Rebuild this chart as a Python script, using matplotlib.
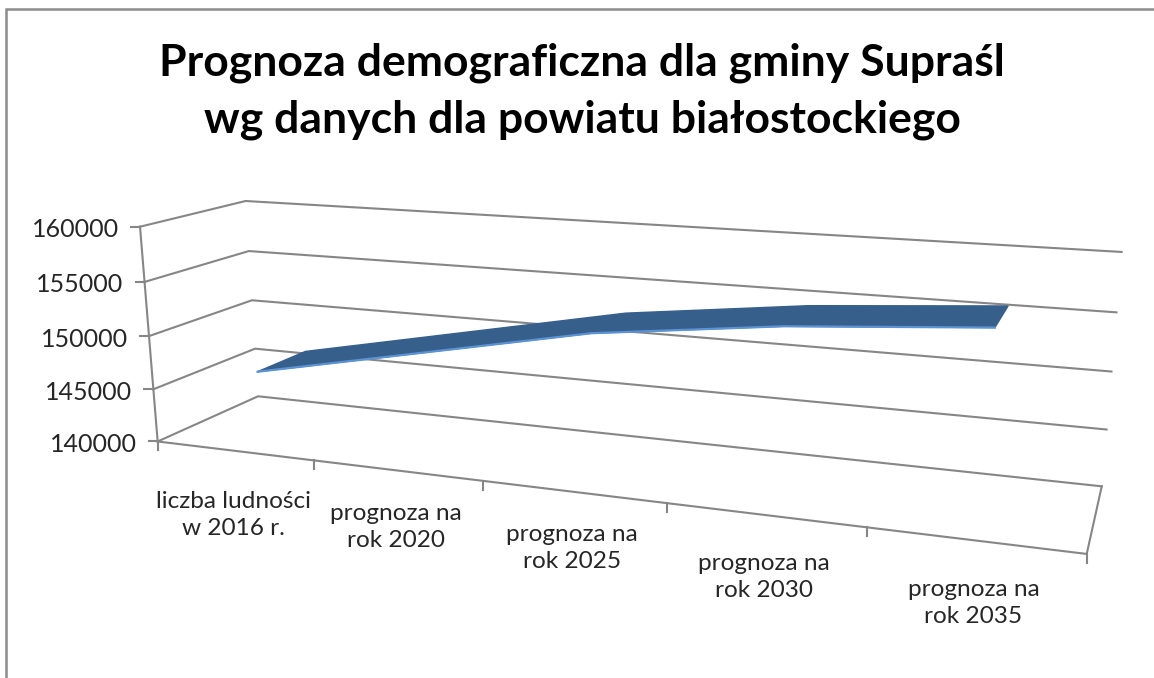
import numpy as np
import matplotlib
matplotlib.use("Agg")
import matplotlib.pyplot as plt

title_lines = ["Prognoza demograficzna dla gminy Supraśl",
               "wg danych dla powiatu białostockiego"]
categories = ["liczba ludności\nw 2016 r.", "prognoza na\nrok 2020", "prognoza na\nrok 2025",
              "prognoza na\nrok 2030", "prognoza na\nrok 2035"]
values = [146300, 149450, 152600, 154500, 155700]
y_ticks = [140000, 145000, 150000, 155000, 160000]

W, H = 1154, 678
GRID = "#868686"
RIBBON = "#375F8C"
RIBBON_EDGE = "#5B93D3"
TEXT = "#262626"
plt.rcParams["font.family"] = ["Lato", "DejaVu Sans"]

# Camera calibration of the 3D box: (across, up, depth) in unit cube -> figure pixels
calib = [
    (0, 0, 0, 158, 441), (0, 1, 0, 140, 227), (0, 0, 1, 258, 396), (0, 1, 1, 246, 201),
    (1, 0, 1, 1101.5, 486), (1, 1, 1, 1121.5, 252), (1, 0, 0, 1087, 553),
    (.2, 0, 0, 314, 462), (.4, 0, 0, 482, 482), (.6, 0, 0, 667, 503), (.8, 0, 0, 867, 527),
    (0, .25, 0, 153.3, 388), (0, .5, 0, 149, 336), (0, .75, 0, 144.5, 282),
    (0, .25, 1, 255, 349), (0, .5, 1, 252.5, 300), (0, .75, 1, 248, 251),
    (1, .25, 1, 1106.7, 430), (1, .5, 1, 1111.7, 372), (1, .75, 1, 1116.5, 312),
]
A = []
for a, u, d, px, py in calib:
    X = [a, u, d, 1]
    A.append(X + [0, 0, 0, 0] + [-px * q for q in X])
    A.append([0, 0, 0, 0] + X + [-py * q for q in X])
P = np.linalg.svd(np.array(A, float))[2][-1].reshape(3, 4)


def project(a, u, d):
    p = P @ np.array([a, u, d, 1.0])
    return p[0] / p[2], p[1] / p[2]


def up(v):
    return (v - y_ticks[0]) / (y_ticks[-1] - y_ticks[0])


fig = plt.figure(figsize=(W / 100, H / 100), dpi=100, facecolor="white")
ax = fig.add_axes([0, 0, 1, 1])
ax.set_xlim(0, W)
ax.set_ylim(H, 0)
ax.axis("off")

# chart frame (only top and left are visible)
ax.plot([6, 6, W], [H, 9, 9], color="#8C8C8C", lw=1.8, solid_joinstyle="miter", zorder=1)

# gridlines on side and back walls
LW = 1.5
for v in y_ticks:
    u = up(v)
    pts = [project(0, u, 0), project(0, u, 1), project(1, u, 1)]
    ax.plot(*zip(*pts), color=GRID, lw=LW, zorder=2)
    x0, y0 = pts[0]
    ax.plot([x0 - 9, x0], [y0, y0], color=GRID, lw=LW, zorder=2)
    ax.text(x0 - 21, y0 + 3, f"{v}", ha="right", va="center",
            fontsize=18, color=TEXT, zorder=5)

# floor, value axis, right-hand edge
floor = [project(0, 0, 0), project(1, 0, 0), project(1, 0, 1)]
ax.plot(*zip(*floor), color=GRID, lw=LW, zorder=2)
ax.plot(*zip(project(0, 0, 0), project(0, 1, 0)), color=GRID, lw=LW, zorder=2)

# category ticks and labels
n = len(categories)
label_drop = [64, 57, 56, 62, 63]
for i in range(n + 1):
    x, y = project(i / n, 0, 0)
    ax.plot([x, x], [y, y + 9], color=GRID, lw=LW, zorder=2)
for i, lab in enumerate(categories):
    x, y = project((i + .5) / n, 0, 0)
    ax.text(x - 1, y + label_drop[i], lab, ha="center", va="center", fontsize=17.6,
            color=TEXT, linespacing=1.35, zorder=5)

# 3D ribbon
D0, D1 = 0.27, 0.77
a = (np.arange(n) + .5) / n
uu = [up(v) for v in values]
front = [project(ai, ui, D0) for ai, ui in zip(a, uu)]
back = [project(ai, ui, D1) for ai, ui in zip(a, uu)]
ax.fill(*zip(*(front + back[::-1])), facecolor=RIBBON, edgecolor=RIBBON, lw=1.0, zorder=3)
ax.plot(*zip(*front), color=RIBBON_EDGE, lw=1.6, zorder=4)

# title
ax.text(582, 62.5, title_lines[0], ha="center", va="center", fontsize=32, fontweight="bold", color="black")
ax.text(582, 119.5, title_lines[1], ha="center", va="center", fontsize=32, fontweight="bold", color="black")

fig.savefig("out.png", dpi=100, facecolor="white")
